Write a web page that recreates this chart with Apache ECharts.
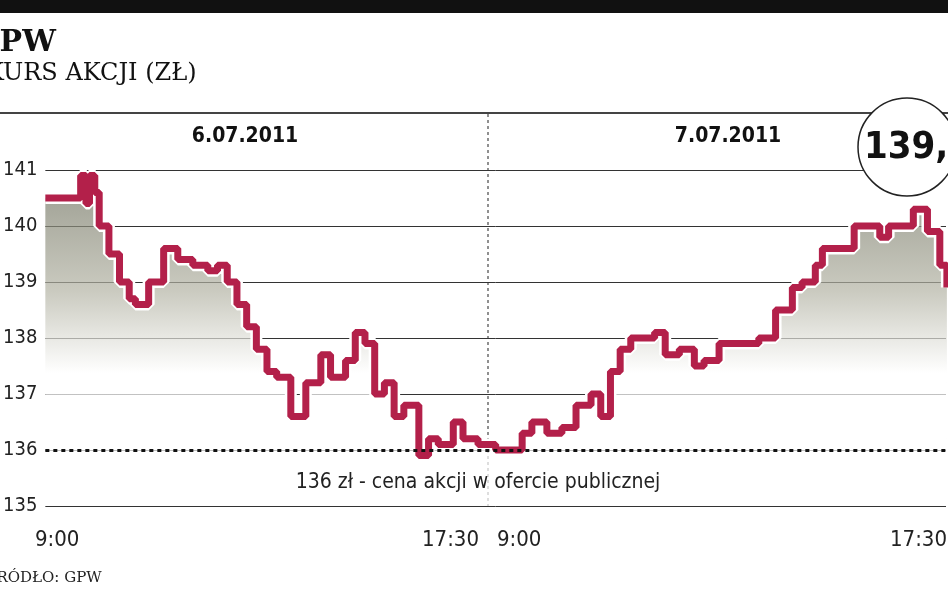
<!DOCTYPE html>
<html><head><meta charset="utf-8">
<script src="https://cdn.jsdelivr.net/npm/echarts@6/dist/echarts.min.js"></script>
<style>html,body{margin:0;padding:0;background:#fff}#c{width:948px;height:593px}</style>
</head><body><div id="c"></div>
<script>
// minutes since 9:00 on 6.07 (each session 510 minutes), price in zł
const minutes = [0,33,40,46,50,56,61,72,84,95,102,117,134,150,167,184,195,206,217,228,239,251,262,278,295,312,323,340,351,362,373,384,395,406,423,434,445,462,473,490,510,523,540,551,568,585,601,618,629,640,651,663,679,690,702,718,735,746,763,780,808,827,846,857,872,880,902,916,932,945,955,977,983,999,1013,1021];
const prices  = [140.5,140.5,140.9,140.4,140.9,140.6,140,139.5,139,138.7,138.6,139,139.6,139.4,139.3,139.2,139.3,139,138.6,138.2,137.8,137.4,137.3,136.6,137.2,137.7,137.3,137.6,138.1,137.9,137,137.2,136.6,136.8,135.9,136.2,136.1,136.5,136.2,136.1,136,136,136.3,136.5,136.3,136.4,136.8,137,136.6,137.4,137.8,138,138,138.1,137.7,137.8,137.5,137.6,137.9,137.9,138,138.5,138.9,139,139.3,139.6,139.6,140,140,139.8,140,140,140.3,139.9,139.3,138.9];
const yTicks = [135,136,137,138,139,140,141];
const xTickLabels = ['9:00','17:30','9:00','17:30'];
const dayLabels = ['6.07.2011','7.07.2011'];
const ipoPrice = 136;
const lastPrice = '139,70';
const data = minutes.map((m,i)=>[m,prices[i]]);
const chart = echarts.init(document.getElementById('c'));
const cond = '"Liberation Sans Narrow","DejaVu Sans Condensed",sans-serif';
const serif = '"DejaVu Serif","Liberation Serif",serif';
chart.setOption({
  animation:false,
  grid:{left:30,right:2,top:170,bottom:87},
  xAxis:{type:'value',min:0,max:1020,show:false},
  yAxis:{type:'value',min:135,max:141,interval:1,
    axisLine:{show:false},axisTick:{show:false},
    splitLine:{lineStyle:{color:'#333',width:1}},
    axisLabel:{color:'#222',fontSize:20,fontFamily:cond,margin:8,formatter:v=>String(v)}},
  series:[
    {type:'line',data:data,step:'end',symbol:'none',z:1,
     lineStyle:{width:0},
     areaStyle:{origin:'start',color:{type:'linear',x:0,y:0,x2:0,y2:1,colorStops:[{offset:0,color:'#6f715f'},{offset:0.35,color:'#b3b3a4'},{offset:0.6,color:'#ffffff'},{offset:1,color:'#ffffff'}]}}},
    {type:'line',data:data,step:'end',symbol:'none',z:2,lineStyle:{color:'#fff',width:12}},
    {type:'line',data:data,step:'end',symbol:'none',z:3,lineStyle:{color:'#b3204a',width:7},
     markLine:{silent:true,symbol:'none',label:{show:false},
       data:[{yAxis:ipoPrice,lineStyle:{type:[4,4],color:'#111',width:3}}]}}
  ],
  graphic:[
    {type:'rect',shape:{x:0,y:0,width:948,height:13},style:{fill:'#111'}},
    {type:'text',x:-26,y:28,style:{text:'GPW',font:'bold 30px '+serif,fill:'#111'}},
    {type:'text',x:-14,y:62,style:{text:'KURS AKCJI (ZŁ)',font:'24px '+serif,fill:'#111'}},
    {type:'rect',shape:{x:0,y:112,width:948,height:2},style:{fill:'#444'}},
    {type:'line',shape:{x1:488,y1:114,x2:488,y2:506},style:{stroke:'#222',lineWidth:1,lineDash:[3,3]}},
    {type:'text',x:245,y:137,style:{text:dayLabels[0],font:'bold 21px '+cond,fill:'#111',align:'center',verticalAlign:'middle'}},
    {type:'text',x:728,y:137,style:{text:dayLabels[1],font:'bold 21px '+cond,fill:'#111',align:'center',verticalAlign:'middle'}},
    {type:'circle',shape:{cx:907,cy:147,r:49},style:{fill:'#fff',stroke:'#222',lineWidth:1.5},z:10},
    {type:'text',x:864,y:148,z:11,style:{text:lastPrice,font:'bold 38px '+cond,fill:'#111',verticalAlign:'middle'}},
    {type:'text',x:478,y:483,z:11,style:{text:'136 zł - cena akcji w ofercie publicznej',font:'21px '+cond,fill:'#222',align:'center',verticalAlign:'middle',backgroundColor:'rgba(255,255,255,0)'}},
    {type:'text',x:35,y:540,style:{text:xTickLabels[0],font:'22px '+cond,fill:'#222',verticalAlign:'middle'}},
    {type:'text',x:479,y:540,style:{text:xTickLabels[1],font:'22px '+cond,fill:'#222',align:'right',verticalAlign:'middle'}},
    {type:'text',x:497,y:540,style:{text:xTickLabels[2],font:'22px '+cond,fill:'#222',verticalAlign:'middle'}},
    {type:'text',x:890,y:540,style:{text:xTickLabels[3],font:'22px '+cond,fill:'#222',verticalAlign:'middle'}},
    {type:'text',x:-14,y:578,style:{text:'ŹRÓDŁO: GPW',font:'15px '+serif,fill:'#222',verticalAlign:'middle'}}
  ]
});
</script></body></html>
